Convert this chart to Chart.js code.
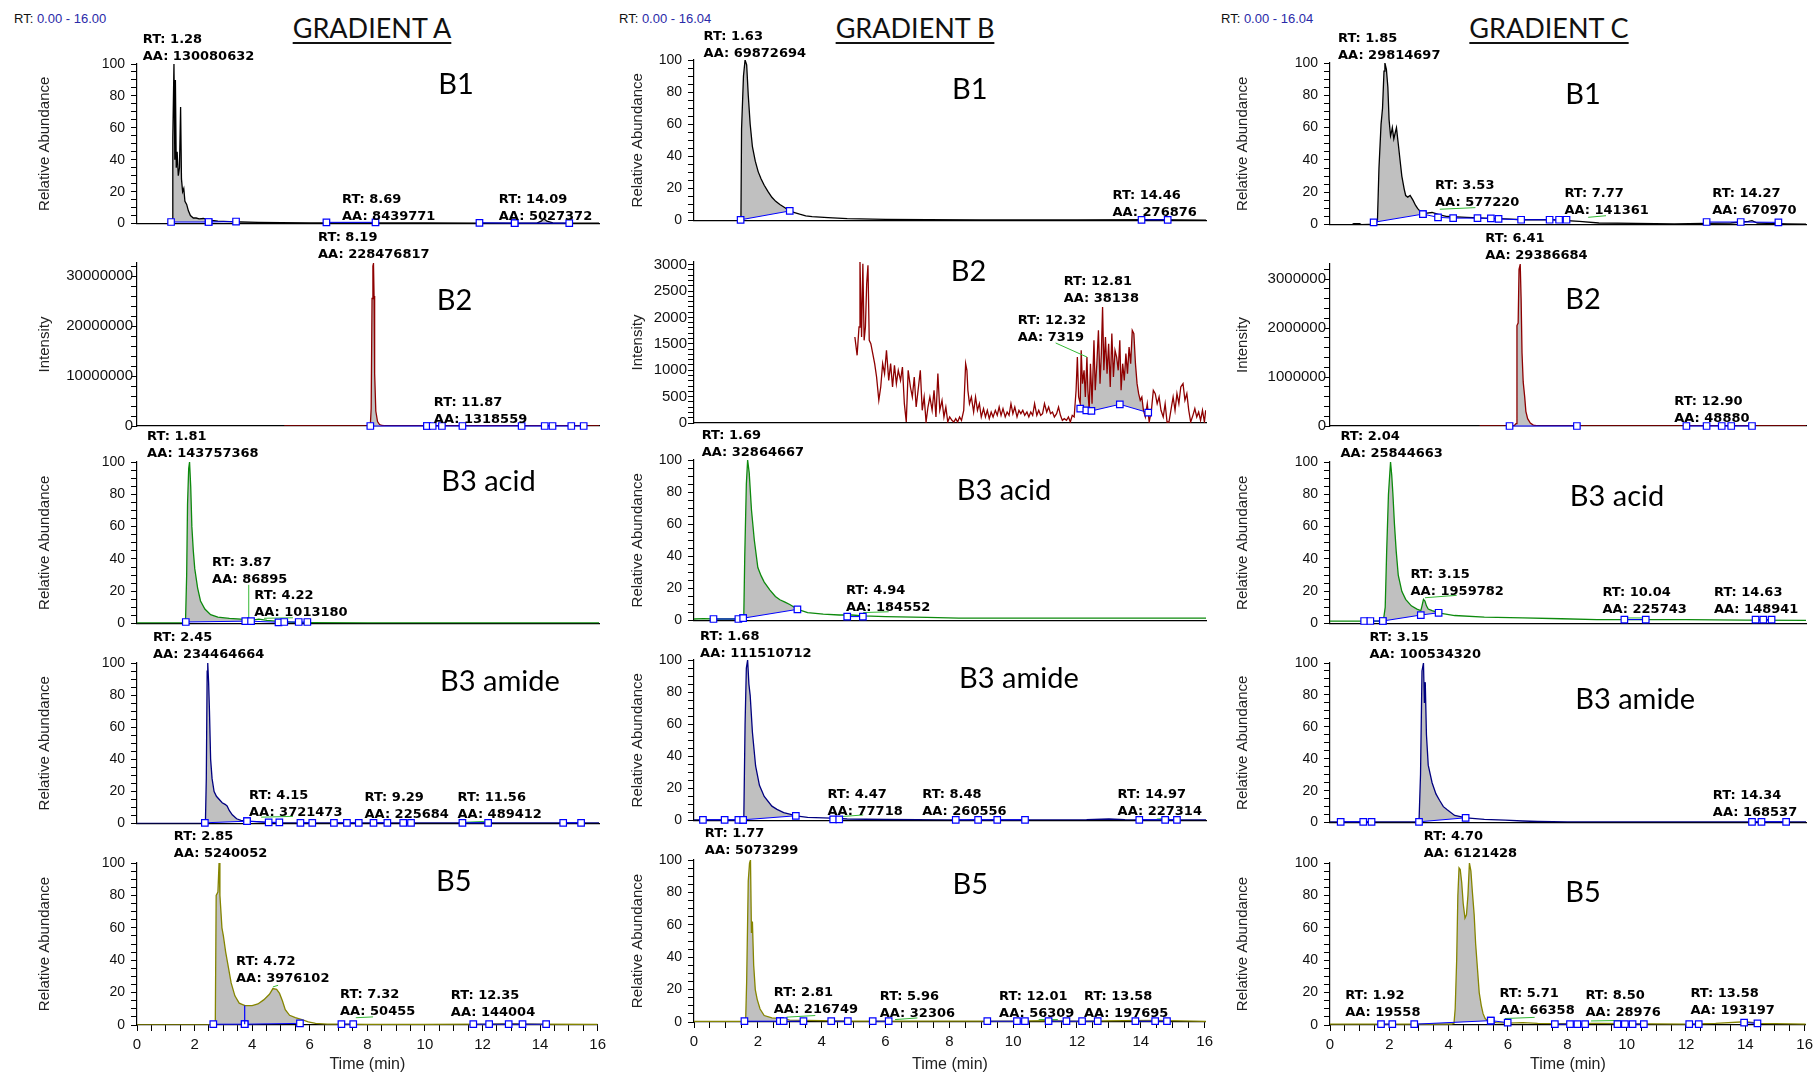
<!DOCTYPE html>
<html>
<head>
<meta charset="utf-8">
<script src="https://cdn.jsdelivr.net/npm/chart.js@4.4.1/dist/chart.umd.min.js"></script>
<style>
html, body { margin: 0; padding: 0; background: #fff; }
#page { position: relative; width: 1814px; height: 1074px; overflow: hidden; background: #fff; }
#page canvas { position: absolute; }
.rng { position: absolute; top: 11px; font: 13px "Liberation Sans", Arial, sans-serif; color: #111; white-space: nowrap; }
.rng span { color: #2a2aa8; }
.grad { position: absolute; top: 14px; font: 27px Lato, sans-serif; line-height: 27px; color: #111; white-space: nowrap;
        text-decoration: underline; text-underline-offset: 4px; text-decoration-thickness: 1.5px; transform: translateX(-50%); }
</style>
</head>
<body>
<div id="page">
  <div class="rng" style="left:14px">RT: <span>0.00 - 16.00</span></div>
  <div class="rng" style="left:619px">RT: <span>0.00 - 16.04</span></div>
  <div class="rng" style="left:1221px">RT: <span>0.00 - 16.04</span></div>
  <div class="grad" style="left:372px">GRADIENT A</div>
  <div class="grad" style="left:915px">GRADIENT B</div>
  <div class="grad" style="left:1549px">GRADIENT C</div>
</div>
<script>
// tick labels
const relTicks = [0, 20, 40, 60, 80, 100];
const timeTicks = [0, 2, 4, 6, 8, 10, 12, 14, 16];
const intTicksA = [0, 10000000, 20000000, 30000000];
const intTicksB = [0, 500, 1000, 1500, 2000, 2500, 3000];
const intTicksC = [0, 1000000, 2000000, 3000000];

// ---------- Gradient A ----------
const trA1 = [[0,0],[1.18,0],[1.22,1],[1.24,54],[1.28,100],[1.31,40],[1.33,90],[1.36,35],[1.39,45],[1.43,30],[1.47,35],[1.51,73],
  [1.54,28],[1.58,20],[1.62,22],[1.66,14],[1.72,12],[1.78,8],[1.85,5],[1.95,3.5],[2.05,3.5],[2.15,3],[2.3,3.2],[2.45,2.5],[2.6,2],
  [2.8,1.5],[3.2,1.2],[3.6,1],[4.2,0.8],[5,0.6],[6,0.5],[8,0.4],[10,0.4],[12,0.3],[13.85,0.3],[14.0,1.5],[14.09,3],[14.2,1.5],[14.4,0.4],[16,0.3]];
const fiA1 = [[[1.18,1],[2.48,1]], [[2.48,1],[3.43,1.3]], [[13.08,0.3],[14.97,0.3]]];
const blA1 = [[[6.56,0.8],[8.26,0.8]], [[11.86,0.5],[13.08,0.3]]];
const ldA1 = [[[1.33,101],[2.15,101.5]]];
const pkA1 = [['1.28','130080632'],['8.69','8439771'],['14.09','5027372']];

const trA2 = [[5.1,0],[8.0,0],[8.08,50000],[8.11,3500000],[8.14,25500000],[8.17,32000000],[8.19,32500000],[8.21,26000000],
  [8.23,10500000],[8.27,3000000],[8.33,900000],[8.4,300000],[8.5,100000],[8.6,0],[16,0]];
const fiA2 = [[[8.08,0],[10.04,0]]];
const blA2 = [[[10.04,0],[10.24,0],[10.56,0],[11.27,0],[13.32,0],[14.12,0],[14.39,0],[15.04,0],[15.47,0]]];
const pkA2 = [['8.19','228476817'],['11.87','1318559']];

const trA3 = [[0,0.4],[1.6,0.4],[1.68,1.5],[1.72,30],[1.75,74],[1.79,96],[1.82,100],[1.86,85],[1.9,60],[1.95,45],[2.0,34],[2.1,22],
  [2.2,14],[2.35,9],[2.55,5.5],[2.8,4],[3.2,3.2],[3.6,2.8],[3.87,2.5],[4.0,2.2],[4.22,2.8],[4.5,2],[5,1.2],[5.5,0.8],[6,0.6],[8,0.5],[16,0.5]];
const fiA3 = [[[1.69,1],[3.75,1.5]]];
const blA3 = [[[3.95,1.5],[4.9,0.8]], [[5.1,1],[5.6,1],[5.9,1]]];
const ldA3 = [[[1.88,101],[2.25,101.5]], [[3.87,3],[3.87,24]], [[4.4,3.3],[5.4,3.6]]];
const pkA3 = [['1.81','143757368'],['3.87','86895'],['4.22','1013180']];

const trA4 = [[0,0.2],[2.3,0.2],[2.37,1],[2.4,28],[2.43,95],[2.45,100],[2.48,88],[2.51,70],[2.55,40],[2.6,28],[2.67,20],[2.75,17],
  [2.85,15],[2.95,13],[3.05,12],[3.12,11],[3.2,8],[3.3,5.5],[3.45,3],[3.6,2],[3.8,1.5],[4.15,1.2],[4.5,0.8],[5,0.5],[7,0.4],[16,0.4]];
const fiA4 = [[[2.35,0.5],[3.81,1.5]]];
const blA4 = [[[3.81,1.5],[4.56,0.8],[4.93,0.8]], [[5.66,0.5],[6.07,0.5]], [[6.82,0.5],[7.27,0.5],[7.68,0.5]], [[8.19,0.5],[8.67,0.5]],
  [[9.22,0.5],[9.49,0.5]], [[11.27,0.5],[12.16,0.5]], [[14.76,0.5],[15.38,0.5]]];
const ldA4 = [[[4.3,4],[5.4,4.5]], [[11.3,0.8],[12.2,1.5]]];
const pkA4 = [['2.45','234464664'],['4.15','3721473'],['9.29','225684'],['11.56','489412']];

const trA5 = [[0,0],[2.6,0],[2.72,2],[2.75,80],[2.81,82],[2.85,100],[2.88,80],[2.95,60],[3.0,55],[3.08,45],[3.15,38],[3.27,26],[3.4,18],
  [3.55,13.5],[3.75,12],[4.0,12],[4.2,13],[4.4,15.5],[4.6,19],[4.72,22.5],[4.85,22],[4.95,19.5],[5.05,15],[5.15,9.5],[5.3,6],[5.5,4.5],
  [5.7,3.5],[5.95,2],[6.2,1],[6.6,0.6],[7.2,0.5],[8,0.4],[10,0.4],[12,0.5],[13,0.8],[14,0.5],[16,0.3]];
const fiA5 = [[[2.65,0.5],[3.74,0.5]], [[3.74,0.5],[5.66,1]]];
const blA5 = [[[7.1,0.5],[7.51,0.5]], [[11.68,0.5],[12.23,0.5],[12.91,0.5],[13.39,0.5],[14.21,0.5]]];
const drA5 = [[[3.74,0.5],[3.74,12]]];
const ldA5 = [[[4.72,23.5],[4.9,24.5]], [[7.6,4.5],[8.2,5]]];
const pkA5 = [['2.85','5240052'],['4.72','3976102'],['7.32','50455'],['12.35','144004']];

// ---------- Gradient B ----------
const trB1 = [[0,0],[1.4,0],[1.47,1],[1.49,57],[1.55,90],[1.6,100],[1.65,97],[1.7,78],[1.76,60],[1.83,46],[1.92,37],[2.01,30.5],
  [2.1,26],[2.2,22],[2.32,18],[2.44,14.5],[2.56,12],[2.69,10],[2.85,8],[3.0,6],[3.15,5],[3.31,4],[3.5,3],[3.7,2.5],[4.2,1.8],[4.8,1.2],
  [6,0.8],[7.3,0.6],[9,0.5],[12,0.4],[14.5,0.6],[16.04,0.3]];
const fiB1 = [[[1.46,0.5],[3.0,6]]];
const blB1 = [[[14.02,0.5],[14.84,0.5]]];
const ldB1 = [[[1.64,101],[1.8,103]]];
const pkB1 = [['1.63','69872694'],['14.46','276876']];

const trB2 = [[5.04,1630],[5.11,1282],[5.17,1819],[5.20,3050],[5.25,1630],[5.29,3019],[5.33,1566],[5.37,1819],[5.41,2640],[5.45,2987],
  [5.49,1566],[5.54,1503],[5.60,1314],[5.66,1124],[5.72,872],[5.79,430],[5.85,682],[5.91,1124],[5.97,935],[6.03,1377],[6.10,808],
  [6.16,1124],[6.22,682],[6.28,1093],[6.34,745],[6.40,998],[6.47,808],[6.53,1061],[6.59,366],[6.65,19],[6.71,998],[6.78,682],[6.84,493],
  [6.90,872],[6.96,303],[7.02,619],[7.09,998],[7.15,240],[7.21,493],[7.27,19],[7.33,303],[7.39,493],[7.46,240],[7.52,619],[7.58,114],
  [7.64,935],[7.70,240],[7.77,430],[7.83,114],[7.89,303],[7.95,19],[8.01,114],[8.08,50],[8.14,19],[8.20,82],[8.26,19],[8.32,114],
  [8.38,50],[8.45,240],[8.51,1124],[8.55,998],[8.58,619],[8.63,366],[8.69,493],[8.76,208],[8.82,493],[8.88,240],[8.94,366],[9.00,114],
  [9.07,271],[9.13,114],[9.19,240],[9.25,82],[9.31,208],[9.37,114],[9.44,240],[9.50,145],[9.56,303],[9.62,145],[9.68,271],[9.75,114],
  [9.81,208],[9.87,145],[9.93,366],[9.99,177],[10.05,303],[10.12,114],[10.18,240],[10.24,177],[10.30,240],[10.36,145],[10.43,208],
  [10.49,114],[10.55,208],[10.61,145],[10.67,366],[10.74,145],[10.80,240],[10.86,145],[10.92,177],[10.98,366],[11.05,208],[11.11,303],
  [11.17,177],[11.23,208],[11.29,114],[11.36,177],[11.42,303],[11.48,145],[11.54,50],[11.60,82],[11.67,50],[11.73,114],[11.79,19],
  [11.85,145],[11.91,114],[11.97,619],[12.01,1250],[12.05,493],[12.10,366],[12.13,1377],[12.17,745],[12.22,998],[12.26,493],[12.31,1250],
  [12.34,619],[12.38,240],[12.42,1124],[12.47,366],[12.53,1566],[12.57,619],[12.62,1124],[12.67,1756],[12.72,745],[12.76,1300],
  [12.80,2198],[12.84,998],[12.89,1630],[12.94,935],[12.99,1503],[13.04,682],[13.09,1693],[13.14,872],[13.19,1377],[13.24,1250],
  [13.29,998],[13.34,1566],[13.38,619],[13.43,1124],[13.48,808],[13.53,1314],[13.58,935],[13.63,1440],[13.68,1124],[13.73,1756],
  [13.78,1693],[13.83,1124],[13.88,745],[13.93,556],[13.98,430],[14.03,493],[14.08,240],[14.14,114],[14.20,366],[14.26,19],[14.33,240],
  [14.39,619],[14.45,556],[14.51,366],[14.57,493],[14.63,240],[14.70,114],[14.76,366],[14.82,19],[14.88,19],[14.94,240],[15.01,493],
  [15.07,240],[15.13,556],[15.19,366],[15.25,682],[15.32,745],[15.38,430],[15.44,556],[15.50,240],[15.56,19],[15.63,145],[15.69,271],
  [15.75,114],[15.81,208],[15.87,50],[15.93,240],[15.99,19],[16.03,240]];
const fiB2 = [[[12.10,272],[12.29,240],[12.45,228],[13.34,354],[14.23,196]]];
const ldB2 = [[[11.33,1516],[12.31,1250]]];
const pkB2 = [['12.81','38138'],['12.32','7319']];

const trB3 = [[0,1],[0.3,1.2],[0.6,1],[1.2,1],[1.5,1.2],[1.56,3],[1.59,40],[1.64,85],[1.68,100],[1.73,92],[1.8,69],[1.89,50],[2.0,33],
  [2.1,28],[2.2,24],[2.38,19],[2.55,15],[2.69,13],[2.85,11.5],[3.0,10],[3.25,7],[3.56,5],[4.05,4],[4.55,3.5],[4.94,3.5],[5.3,3],[6.0,2.5],
  [7.3,2],[8.3,1.5],[10,1.5],[16.04,1.5]];
const fiB3 = [[[1.54,1.5],[3.24,7]]];
const blB3 = [[[0.61,1],[1.39,1],[1.54,1.5]], [[4.8,2.5],[5.29,2.5]]];
const ldB3 = [[[1.7,101],[1.78,103]], [[5.3,5],[6.1,5.5]]];
const pkB3 = [['1.69','32864667'],['4.94','184552']];

const trB4 = [[0,0.5],[1.5,0.5],[1.56,1],[1.6,60],[1.64,95],[1.68,100],[1.72,85],[1.76,78],[1.83,55],[1.93,34],[2.05,22],[2.2,15],
  [2.44,9],[2.6,7],[2.81,5],[3.0,4],[3.19,3],[3.56,2],[4.3,1.5],[4.8,1],[6.0,0.7],[8,0.5],[12.3,0.6],[13,1],[13.5,0.6],[16.04,0.5]];
const fiB4 = [[[1.54,0.5],[3.19,3]]];
const blB4 = [[[0.28,0.5],[0.96,0.5],[1.39,0.5],[1.54,0.5]], [[4.36,0.8],[4.55,0.8]], [[8.2,0.5],[8.9,0.5],[9.5,0.5],[10.37,0.5]],
  [[13.95,0.5],[14.76,0.5],[15.13,0.5]]];
const ldB4 = [[[1.7,101],[1.78,102]], [[4.6,2.5],[5.3,3.5]], [[14.5,1],[14.9,1.5]]];
const pkB4 = [['1.68','111510712'],['4.47','77718'],['8.48','260556'],['14.97','227314']];

const trB5 = [[0,0.3],[1.55,0.3],[1.62,2],[1.65,25],[1.7,87],[1.74,98],[1.77,100],[1.8,55],[1.83,62],[1.87,35],[1.92,20],[1.98,14],
  [2.07,8],[2.2,4],[2.44,2.5],[2.81,2],[3.0,1.2],[3.5,1],[4,0.8],[5,0.5],[7,0.5],[10,0.5],[11,0.8],[12,0.6],[13.5,0.8],[14.5,1],[16.04,0.4]];
const fiB5 = [[[1.58,0.5],[2.69,0.5]]];
const blB5 = [[[2.69,0.5],[2.81,0.5],[3.43,0.5]], [[4.3,0.5],[4.82,0.5]], [[5.6,0.5],[6.1,0.5]], [[9.19,0.5],[10.12,0.5],[10.37,0.5]],
  [[11.11,0.5],[11.67,0.5],[12.16,0.5],[12.65,0.5]], [[13.83,0.5],[14.45,0.5],[14.82,0.5]]];
const ldB5 = [[[2.9,3],[3.8,4]], [[6.3,1.5],[7.0,2.5]], [[10.8,1.5],[11.4,1.5]]];
const pkB5 = [['1.77','5073299'],['2.81','216749'],['5.96','32306'],['12.01','56309'],['13.58','197695']];

// ---------- Gradient C ----------
const trC1 = [[0,0],[0.75,0],[0.8,0.6],[1.0,0.6],[1.05,0],[1.55,0.3],[1.6,3],[1.65,35],[1.72,62],[1.77,72],[1.82,95],[1.85,100],[1.9,96],
  [1.95,85],[1.99,65],[2.04,55],[2.08,58],[2.1,60],[2.15,53],[2.2,57],[2.24,60],[2.3,50],[2.36,40],[2.42,30],[2.5,22],[2.55,18],[2.62,17],
  [2.7,18],[2.8,15],[2.88,12],[2.95,10],[3.05,8],[3.2,7],[3.44,7.5],[3.7,6],[3.95,5],[4.6,4.5],[5.2,4],[5.9,3.5],[6.5,3],[7.5,3],[8.4,2],
  [9.06,1],[10.3,0.8],[11.6,0.5],[12.6,0.8],[13.5,1],[14.1,2],[14.22,2.5],[14.4,1],[15.4,0.5],[16.04,0.3]];
const fiC1 = [[[1.47,1.4],[3.13,6.5]]];
const blC1 = [[[3.13,6.5],[3.64,4.5],[4.15,4],[4.97,4],[5.42,3.8],[5.68,3.5],[6.44,3],[7.4,3],[7.72,3],[7.97,3]],
  [[12.69,1.6],[13.84,1.6],[15.11,1.4]]];
const ldC1 = [[[1.88,101],[1.95,103]], [[3.7,9.5],[4.9,10.5]], [[8.7,4.5],[9.3,5.5]]];
const pkC1 = [['1.85','29814697'],['3.53','577220'],['7.77','141361'],['14.27','670970']];

const trC2 = [[5.04,0],[6.2,0],[6.27,50000],[6.3,2050000],[6.34,2100000],[6.37,3200000],[6.41,3300000],[6.44,2600000],[6.47,1500000],
  [6.51,900000],[6.56,600000],[6.6,300000],[6.66,150000],[6.75,60000],[6.85,20000],[7.0,0],[16.04,0]];
const fiC2 = [[[6.05,0],[8.32,0]]];
const blC2 = [[[12.01,0],[12.69,0],[13.2,0],[13.52,0],[14.22,0]]];
const ldC2 = [[[6.45,3340000],[6.8,3360000]]];
const pkC2 = [['6.41','29386684'],['12.90','48880']];

const trC3 = [[0,1.5],[1.7,1.5],[1.8,2],[1.86,10],[1.91,45],[1.97,80],[2.04,100],[2.08,92],[2.12,80],[2.17,62],[2.23,45],[2.3,30],
  [2.42,20],[2.55,15],[2.74,11],[2.93,9],[3.06,8],[3.1,11],[3.15,15],[3.2,14],[3.25,11],[3.31,9],[3.44,8],[3.7,6.5],[4.2,5],[5.2,4],
  [6.5,3.5],[7.8,3],[9,2.5],[10.3,2.5],[12,2.5],[14,2.2],[16.04,2]];
const fiC3 = [[[1.78,1.6],[3.06,5.3],[3.66,6.7]]];
const blC3 = [[[1.15,1.6],[1.36,1.6],[1.78,1.6]], [[9.92,2.5],[10.64,2.5]], [[14.34,2.5],[14.6,2.5],[14.88,2.5]]];
const ldC3 = [[[2.08,101],[2.12,103]], [[3.2,16],[4.27,17.5]], [[9.95,3.5],[10.6,3.5]]];
const pkC3 = [['2.04','25844663'],['3.15','1959782'],['10.04','225743'],['14.63','148941']];

const trC4 = [[0,0.5],[2.9,0.5],[3.0,1],[3.05,30],[3.1,95],[3.15,100],[3.18,75],[3.21,88],[3.25,55],[3.31,36],[3.38,30],[3.44,25],
  [3.57,18],[3.69,14],[3.82,10],[3.95,8],[4.2,4.5],[4.59,3],[5.2,2],[5.9,1.5],[6.5,1],[7,0.7],[8,0.5],[16.04,0.5]];
const fiC4 = [[[3.0,0.5],[4.57,3]]];
const blC4 = [[[0.36,0.5],[1.12,0.5],[1.4,0.5]], [[14.22,0.5],[14.54,0.5],[15.37,0.5]]];
const pkC4 = [['3.15','100534320'],['14.34','168537']];

const trC5 = [[0,0.5],[4.1,0.5],[4.18,1],[4.22,10],[4.27,40],[4.31,80],[4.35,97],[4.39,96],[4.44,88],[4.49,75],[4.55,66],[4.6,68],
  [4.65,80],[4.7,100],[4.75,95],[4.8,82],[4.86,68],[4.91,50],[4.97,35],[5.03,20],[5.1,12],[5.16,7],[5.23,4],[5.36,2],[5.6,1.5],[6.0,1.2],
  [6.5,1.5],[7,1],[8,0.8],[9,1],[10,0.8],[12,0.6],[13,1],[14,2],[14.5,1],[16.04,0.5]];
const fiC5 = [[[2.84,0.5],[5.42,2.7]]];
const blC5 = [[[1.72,0.5],[2.1,0.5]], [[5.42,2.7],[5.99,1.5]], [[7.58,0.5],[8.09,0.5],[8.34,0.5],[8.6,0.5]],
  [[9.69,0.5],[9.94,0.5],[10.2,0.5],[10.58,0.5]], [[12.11,0.5],[12.43,0.5]], [[13.96,1.5],[14.41,1]]];
const ldC5 = [[[5.9,4],[6.9,4.7]], [[8.8,2.5],[9.8,2.8]]];
const pkC5 = [['4.70','6121428'],['1.92','19558'],['5.71','66358'],['8.50','28976'],['13.58','193197']];

// ---------- layout / styles ----------
const BLUE = '#0000ff', GREEN = '#33b833', GRAY = '#c0c0c0';
const colors = { B1: '#000000', B2: '#8e0000', acid: '#0d8a0d', amide: '#000080', B5: '#858500' };

const cols = {
  A: { left: 137, right: 599, xMax: 16.00, titleOff: 92 },
  B: { left: 694, right: 1206, xMax: 16.04, titleOff: 56 },
  C: { left: 1330, right: 1806, xMax: 16.04, titleOff: 87 }
};

const rel = { ymax: 100, step: 5, major: relTicks, ytitle: 'Relative Abundance', tickFont: 14, tickPad: 6 };

const panels = [
  { col: 'A', top: 64, bottom: 226, ...rel, color: colors.B1, trace: trA1, fills: fiA1, base: blA1, leads: ldA1, peaks: pkA1,
    spots: [[0.2,119.5],[7.1,19],[12.53,19]], name: 'B1', nameAt: [11.05,87] },
  { col: 'A', top: 263, bottom: 426, ymax: 32600000, step: 2000000, major: intTicksA, ytitle: 'Intensity', tickFont: 15, tickPad: -2,
    color: colors.B2, trace: trA2, fills: fiA2, base: blA2, peaks: pkA2,
    spots: [[6.27,39000000],[10.28,6000000]], name: 'B2', nameAt: [11.0,25000000] },
  { col: 'A', top: 462, bottom: 626, ...rel, color: colors.acid, trace: trA3, fills: fiA3, base: blA3, leads: ldA3, peaks: pkA3,
    spots: [[0.35,119.5],[2.6,42],[4.06,21.5]], name: 'B3 acid', nameAt: [12.17,88] },
  { col: 'A', top: 663, bottom: 826, ...rel, color: colors.amide, trace: trA4, fills: fiA4, base: blA4, leads: ldA4, peaks: pkA4,
    spots: [[0.55,120],[3.88,21.5],[7.88,20],[11.1,20]], name: 'B3 amide', nameAt: [12.57,88.7] },
  { col: 'A', top: 863, bottom: 1025, ...rel, bottomAxis: true, color: colors.B5, trace: trA5, fills: fiA5, base: blA5, drops: drA5,
    leads: ldA5, peaks: pkA5, spots: [[1.28,120.6],[3.44,43],[7.05,23],[10.9,22]], name: 'B5', nameAt: [11.0,88.6] },

  { col: 'B', top: 60, bottom: 223, ...rel, color: colors.B1, trace: trB1, fills: fiB1, base: blB1, leads: ldB1, peaks: pkB1,
    spots: [[0.3,118.8],[13.11,19.4]], name: 'B1', nameAt: [8.64,81.6] },
  { col: 'B', top: 262, bottom: 423, ymax: 3050, step: 100, major: intTicksB, ytitle: 'Intensity', tickFont: 15, tickPad: 1,
    color: colors.B2, trace: trB2, fills: fiB2, leads: ldB2, peaks: pkB2,
    spots: [[11.58,2797],[10.14,2072]], name: 'B2', nameAt: [8.6,2860] },
  { col: 'B', top: 460, bottom: 623, ...rel, color: colors.acid, trace: trB3, fills: fiB3, base: blB3, leads: ldB3, peaks: pkB3,
    spots: [[0.24,119.4],[4.76,23]], name: 'B3 acid', nameAt: [9.71,81] },
  { col: 'B', top: 660, bottom: 823, ...rel, color: colors.amide, trace: trB4, fills: fiB4, base: blB4, leads: ldB4, peaks: pkB4,
    spots: [[0.19,118.9],[4.18,20.5],[7.15,20.5],[13.27,20.5]], name: 'B3 amide', nameAt: [10.18,88.7] },
  { col: 'B', top: 860, bottom: 1022, ...rel, bottomAxis: true, color: colors.B5, trace: trB5, fills: fiB5, base: blB5, leads: ldB5,
    peaks: pkB5, spots: [[0.34,120.5],[2.5,22],[5.82,20],[9.56,20],[12.22,20]], name: 'B5', nameAt: [8.66,84.6] },

  { col: 'C', top: 63, bottom: 227, ...rel, color: colors.B1, trace: trC1, fills: fiC1, base: blC1, leads: ldC1, peaks: pkC1,
    spots: [[0.27,118.9],[3.54,28.5],[7.9,23.4],[12.88,23.4]], name: 'B1', nameAt: [8.53,80.7] },
  { col: 'C', top: 264, bottom: 426, ymax: 3307000, step: 200000, major: intTicksC, ytitle: 'Intensity', tickFont: 15, tickPad: -2,
    color: colors.B2, trace: trC2, fills: fiC2, base: blC2, leads: ldC2, peaks: pkC2,
    spots: [[5.23,3970000],[11.6,634000]], name: 'B2', nameAt: [8.53,2580000] },
  { col: 'C', top: 462, bottom: 626, ...rel, color: colors.acid, trace: trC3, fills: fiC3, base: blC3, leads: ldC3, peaks: pkC3,
    spots: [[0.35,119.5],[2.71,34.6],[9.18,23],[12.94,23]], name: 'B3 acid', nameAt: [9.67,78.8] },
  { col: 'C', top: 663, bottom: 825, ...rel, color: colors.amide, trace: trC4, fills: fiC4, base: blC4, peaks: pkC4,
    spots: [[1.33,120],[12.9,21]], name: 'B3 amide', nameAt: [10.28,77] },
  { col: 'C', top: 863, bottom: 1025, ...rel, bottomAxis: true, color: colors.B5, trace: trC5, fills: fiC5, base: blC5, leads: ldC5,
    peaks: pkC5, spots: [[3.16,120.6],[0.51,22],[5.71,23.7],[8.61,22],[12.15,23.7]], name: 'B5', nameAt: [8.53,81.4] }
];

Chart.defaults.font.family = '"Liberation Sans", Arial, sans-serif';
Chart.defaults.color = '#111';

const pts = arr => arr.map(p => ({ x: p[0], y: p[1] }));
function segs(list) {
  const out = [];
  (list || []).forEach((s, i) => {
    if (i) out.push({ x: s[0][0], y: null });
    s.forEach(p => out.push({ x: p[0], y: p[1] }));
  });
  return out;
}
// trace points between a and b, closed at the window edges so neighbouring fills meet
function slice(tr, a, b) {
  const at = t => {
    for (let i = 1; i < tr.length; i++) {
      if (tr[i][0] >= t) {
        const [x0, y0] = tr[i - 1], [x1, y1] = tr[i];
        return y0 + (y1 - y0) * (t - x0) / (x1 - x0);
      }
    }
    return tr[tr.length - 1][1];
  };
  return [[a, at(a)], ...tr.filter(q => q[0] > a && q[0] < b), [b, at(b)]];
}
// tick positions every `step` up to `max`
function stepTicks(max, step) {
  const out = [];
  for (let i = 0; i * step <= max + 1e-9; i++) out.push({ value: +(i * step).toFixed(6) });
  return out;
}

function drawText(chart, p) {
  const { ctx, scales: { x, y } } = chart;
  ctx.save();
  ctx.fillStyle = '#000';
  ctx.font = 'bold 13px "DejaVu Sans"';
  ctx.textAlign = 'left';
  ctx.textBaseline = 'alphabetic';
  p.peaks.forEach((pk, i) => {
    const px = x.getPixelForValue(p.spots[i][0]);
    const py = y.getPixelForValue(p.spots[i][1]);
    ctx.fillText('RT: ' + pk[0], px, py + 10);
    ctx.fillText('AA: ' + pk[1], px, py + 27);
  });
  ctx.font = '29px Lato';
  ctx.textAlign = 'center';
  ctx.textBaseline = 'middle';
  ctx.fillText(p.name, x.getPixelForValue(p.nameAt[0]), y.getPixelForValue(p.nameAt[1]));
  ctx.restore();
}

function makePanel(p) {
  const c = cols[p.col];
  const padL = 140, padR = 12, padTop = 48;
  const padBot = p.bottomAxis ? 1074 - p.bottom : 12;
  const cv = document.createElement('canvas');
  cv.width = padL + (c.right - c.left) + padR;
  cv.height = padTop + (p.bottom - p.top) + padBot;
  cv.style.left = (c.left - padL) + 'px';
  cv.style.top = (p.top - padTop) + 'px';
  document.getElementById('page').appendChild(cv);

  const ds = [];
  ds.push({ data: segs(p.base), borderColor: BLUE, borderWidth: 1, pointStyle: 'rect', pointRadius: 4.6,
            pointBorderColor: BLUE, pointBackgroundColor: '#fff', pointBorderWidth: 1.2, clip: false, spanGaps: false });
  ds.push({ data: segs(p.drops), borderColor: BLUE, borderWidth: 1.2, pointRadius: 0, spanGaps: false });
  const baseIdx = [];
  (p.fills || []).forEach(s => {
    baseIdx.push(ds.length);
    ds.push({ data: pts(s), borderColor: BLUE, borderWidth: 1, pointStyle: 'rect', pointRadius: 4.6,
              pointBorderColor: BLUE, pointBackgroundColor: '#fff', pointBorderWidth: 1.2, clip: false });
  });
  ds.push({ data: segs(p.leads), borderColor: GREEN, borderWidth: 1, pointRadius: 0, spanGaps: false });
  ds.push({ data: pts(p.trace), borderColor: p.color, borderWidth: 1.3, pointRadius: 0 });
  (p.fills || []).forEach((s, i) => {
    ds.push({ data: pts(slice(p.trace, s[0][0], s[s.length - 1][0])), borderColor: 'rgba(0,0,0,0)', borderWidth: 0,
              pointRadius: 0, backgroundColor: GRAY, fill: baseIdx[i] });
  });

  new Chart(cv, {
    type: 'line',
    data: { datasets: ds },
    options: {
      responsive: false, animation: false, events: [], devicePixelRatio: 1,
      layout: { padding: { top: padTop, right: padR, left: 0, bottom: p.bottomAxis ? 0 : padBot } },
      plugins: { legend: { display: false }, tooltip: { enabled: false } },
      elements: { line: { tension: 0 } },
      scales: {
        x: {
          type: 'linear', min: 0, max: c.xMax,
          afterBuildTicks: s => { s.ticks = stepTicks(16, 0.5); },
          afterFit: s => { s.height = p.bottomAxis ? padBot : 0; },
          border: { display: true, color: '#000', width: 1.2 },
          grid: { display: !!p.bottomAxis, drawOnChartArea: false, tickLength: 6, color: '#000' },
          ticks: { display: !!p.bottomAxis, autoSkip: false, maxRotation: 0, padding: 5,
                   font: { size: 15 }, color: '#111',
                   callback: v => timeTicks.includes(v) ? String(v) : '' },
          title: { display: !!p.bottomAxis, text: 'Time (min)', font: { size: 16 }, color: '#222', padding: { top: 0, bottom: 0 } }
        },
        y: {
          type: 'linear', min: 0, max: p.ymax,
          afterBuildTicks: s => { s.ticks = stepTicks(p.ymax, p.step); },
          afterFit: s => { s.width = padL; },
          border: { display: true, color: '#000', width: 1.2 },
          grid: { drawOnChartArea: false, tickLength: 6, color: '#000' },
          ticks: { autoSkip: false, padding: p.tickPad, font: { size: p.tickFont }, color: '#111',
                   callback: v => p.major.includes(v) ? String(v) : '' },
          title: { display: true, text: p.ytitle, font: { size: 15 }, color: '#222',
                   padding: { top: padL - c.titleOff - 9, bottom: 0 } }
        }
      }
    },
    plugins: [{ id: 'peakText', afterDraw: ch => drawText(ch, p) }]
  });
}

panels.forEach(makePanel);
</script>
</body>
</html>
